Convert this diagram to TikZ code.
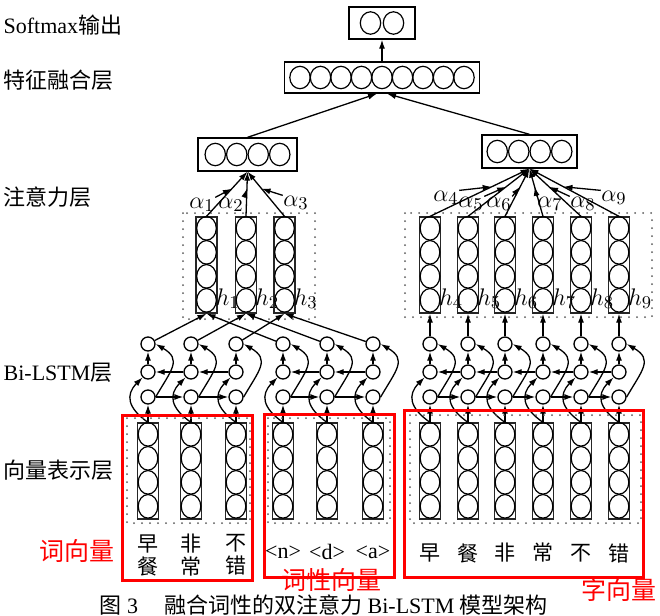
\documentclass[tikz,border=0pt]{standalone}
\usepackage{fontspec}
\setmainfont{Liberation Serif}
\newfontfamily\cjk{Noto Sans CJK SC}
\usetikzlibrary{arrows.meta,positioning,calc}

\newcommand\vcells[1]{%
  \foreach \k in {0,...,3}
    \draw[cellline] ($(#1.north)+(0,-12-24*\k)$) ellipse [x radius=4.9pt, y radius=5.9pt];}
\newcommand\hcells[3]{%
  \foreach \k in {1,...,#2}
    \draw[cellline] ($(#1.center)+({(\k-(#2+1)/2)*#3},0)$) ellipse [x radius=5.1pt, y radius=5.6pt];}

\begin{document}
\begin{tikzpicture}[
  x=0.5pt, y=0.5pt,
  >={Latex[length=4.5pt,width=3pt]},
  line width=0.65pt,
  vcol/.style={draw, black!85, minimum width=10.5pt, minimum height=48pt, inner sep=0pt},
  hbox/.style={draw, inner sep=0pt, minimum height=16pt},
  lstm/.style={draw, circle, minimum size=7pt, inner sep=0pt},
  cellline/.style={line width=0.6pt},
  dotbox/.style={line width=1pt, line cap=round, dash pattern=on 0pt off 4pt, black!65},
  redbox/.style={draw=red, line width=1.5pt},
  layer/.style={anchor=west, inner sep=0pt, font=\fontsize{11}{13}\selectfont\cjk},
  tag/.style={text=red, inner sep=0pt, font=\fontsize{12.5}{14}\selectfont\cjk},
  wd/.style={align=center, inner sep=0pt, font=\fontsize{10.5}{11.5}\selectfont\cjk},
  posw/.style={inner sep=0pt, font=\fontsize{11}{13}\selectfont},
  lab/.style={inner sep=0pt, font=\fontsize{12.5}{14}\selectfont}
]
\useasboundingbox (0,0) rectangle (660,-616);

\node[layer] (lsm) at (3,-25) {{\rmfamily Softmax}输出};
\node[layer] (lfu) at (3,-80) {特征融合层};
\node[layer] (lat) at (3,-197) {注意力层};
\node[layer] (lbi) at (3,-373) {{\rmfamily Bi-LSTM}层};
\node[layer] (lve) at (3,-470) {向量表示层};

\node[hbox, minimum width=33pt] (sm) at (382,-23) {};
\hcells{sm}{2}{23}
\node[hbox, minimum width=97.5pt, minimum height=15.5pt] (fuse) at (382,-77.5) {};
\hcells{fuse}{9}{20.5}
\node[hbox, minimum width=49.5pt, minimum height=16.5pt] (attL) at (247.5,-154.5) {};
\hcells{attL}{4}{21.5}
\node[hbox, minimum width=47.5pt, minimum height=16.5pt] (attR) at (529.5,-151.5) {};
\hcells{attR}{4}{21.5}

\draw[->] (fuse) -- (sm);
\draw[->] (attL.north) -- ($(fuse.south)+(-5,0)$);
\draw[->] (attR.north) -- ($(fuse.south)+(5,0)$);

\foreach \i/\x in {1/206.5,2/246,3/284.5,4/430,5/468,6/505,7/543,8/581,9/619} {
  \node[vcol] (h\i) at (\x,-265) {};
  \vcells{h\i}
  \node[lab] (hl\i) at ($(h\i.south east)+(10,15)$) {$h_{\i}$};
}
\draw[dotbox] (183,-213) rectangle (315,-319);
\draw[dotbox] (405,-213) rectangle (652,-317);

\foreach \i in {1,2,3} \draw[->] (h\i.north) -- (attL.south);
\foreach \i in {4,...,9} \draw[->] (h\i.north) -- (attR.south);

\foreach \i/\x/\y/\s in {1/202/-205/north east,2/231/-205/north east,3/296/-203/north west} {
  \node[lab] (a\i) at (\x,\y) {$\alpha_{\i}$};
  \draw[->] (a\i.\s) -- ($(h\i.north)!0.62!(attL.south)$);
}
\foreach \i/\x/\y/\s in {4/446/-198/north east,5/471/-204/north east,6/499/-204/north east,
                         7/550/-204/north west,8/583/-204/north west,9/614/-198/north west} {
  \node[lab] (a\i) at (\x,\y) {$\alpha_{\i}$};
  \draw[->] (a\i.\s) -- ($(h\i.north)!0.62!(attR.south)$);
}

\foreach \i/\x in {1/148,2/191,3/236,4/283,5/327,6/373,7/430,8/468,9/505,10/543,11/581,12/619} {
  \node[vcol] (e\i) at (\x,-471) {};
  \vcells{e\i}
  \node[lstm] (f\i) at (\x,-397) {};
  \node[lstm] (b\i) at (\x,-372) {};
  \node[lstm] (c\i) at (\x,-344) {};
  \draw[->] (e\i) -- (f\i);
  \draw[->] (b\i) -- (c\i);
  \draw[->] (f\i.east) to[out=60, in=-30, looseness=1.5] (c\i.east);
  \draw[->] (e\i.north) to[out=145, in=-135, looseness=1.4] (b\i.south west);
}
\foreach \i/\j in {1/2,2/3,4/5,5/6,7/8,8/9,9/10,10/11,11/12} {
  \draw[->] (f\i) -- (f\j);
  \draw[->] (b\j) -- (b\i);
}
\foreach \i/\j in {1/1,2/2,3/3,4/1,5/2,6/3} \draw[->] (c\i) -- (h\j.south);
\foreach \i/\j in {7/4,8/5,9/6,10/7,11/8,12/9} \draw[->] (c\i) -- (h\j);

\draw[dotbox] (127,-418) rectangle (250,-523);
\draw[dotbox] (268,-418) rectangle (390,-523);
\draw[dotbox] (410,-415) rectangle (641,-523);
\draw[redbox] (122,-415) rectangle (252,-580);
\draw[redbox] (264,-414) rectangle (394,-577);
\draw[redbox] (404,-410) rectangle (643,-577);

\coordinate (wrow) at (0,-555);
\coordinate (prow) at (0,-552);
\coordinate (crow) at (0,-553);
\foreach \i/\w in {1/{早\\餐},2/{非\\常},3/{不\\错}} \node[wd] (w\i) at (e\i |- wrow) {\w};
\foreach \i/\w in {4/<n>,5/<d>,6/<a>} \node[posw] (w\i) at (e\i |- prow) {\w};
\foreach \i/\w in {7/早,8/餐,9/非,10/常,11/不,12/错} \node[wd] (w\i) at (e\i |- crow) {\w};

\node[tag] (t1) at (77,-551) {词向量};
\node[tag] (t2) at (331,-580) {词性向量};
\node[tag] (t3) at (619,-590) {字向量};

\node[anchor=west, inner sep=0pt, font=\fontsize{11}{12}\selectfont] (cap) at (99,-605)
  {{\cjk 图}~3\hspace{13pt}{\cjk 融合词性的双注意力}~Bi-LSTM~{\cjk 模型架构}};
\end{tikzpicture}
\end{document}
